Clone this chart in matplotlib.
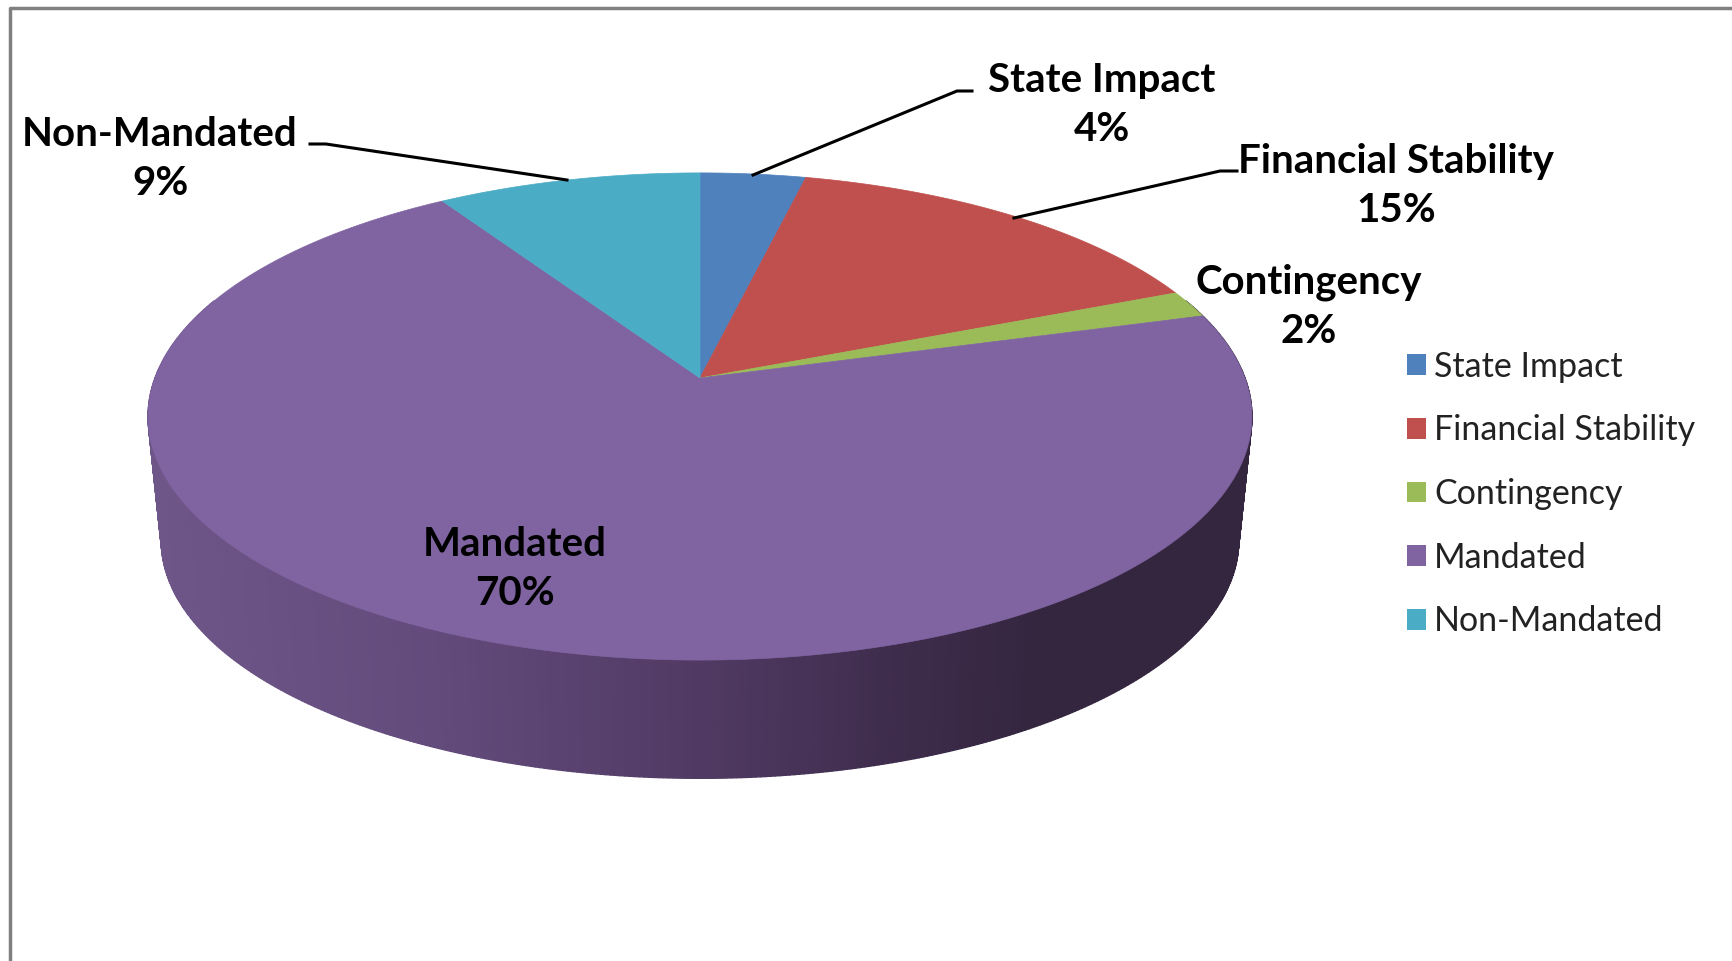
# 3D style pie chart, budget shares
import numpy as np
import matplotlib
matplotlib.use('Agg')
import matplotlib.pyplot as plt
from matplotlib.colors import LinearSegmentedColormap
from matplotlib.patches import Patch

categories = ['State Impact', 'Financial Stability', 'Contingency', 'Mandated', 'Non-Mandated']
shares = [3.6, 15.2, 1.8, 70.4, 9.0]
colors = ['#4f81bd', '#c0504d', '#9bbb59', '#8064a2', '#4bacc6']

plt.rcParams['font.family'] = ['Lato', 'DejaVu Sans']

# axes run in pixels of the picture
fig = plt.figure(figsize=(17.32, 9.61), dpi=100)
ax = fig.add_axes([0, 0, 1, 1])
ax.set_xlim(0, 1732)
ax.set_ylim(961, 0)
ax.axis('off')

cx, cy = 700, 378
rx, ry = 545, 237.5
persp = 0.158
depth = 125
shrink = 0.976


# turn an angle (clockwise from 12 o'clock) into a point of the tilted disc
def rim(t, scale=1.0, drop=0.0):
    X, Y = np.sin(t), np.cos(t)
    w = 1 + persp * Y
    return cx + scale * rx * X / w, cy + drop - scale * ry * Y / w


# side wall, shaded from left to right
shade = LinearSegmentedColormap.from_list('side', [
    (0.0, '#6f5689'), (0.25, '#634b7c'), (0.5, '#503a63'),
    (0.68, '#3e2c4c'), (0.8, '#352640'), (1.0, '#352640')])
tt = np.linspace(np.pi / 2 - 0.35, 3 * np.pi / 2 + 0.35, 500)
for t0, t1 in zip(tt[:-1], tt[1:]):
    x0, y0 = rim(t0)
    x1, y1 = rim(t1)
    x2, y2 = rim(t1, shrink, depth)
    x3, y3 = rim(t0, shrink, depth)
    c = shade((min(x0, x1) - 148) / 1103)
    ax.fill([x0, x1, x2, x3], [y0, y1, y2, y3], color=c, lw=1)

# top of the pie
edges = np.cumsum([0] + shares) / sum(shares) * 2 * np.pi
for a0, a1, col in zip(edges[:-1], edges[1:], colors):
    t = np.linspace(a0, a1, 200)
    x, y = rim(t)
    ax.fill(np.r_[cx, x], np.r_[cy, y], color=col, lw=0.5)

# data labels
label_pos = [(1102, 105), (1396, 186), (1309, 307), (515, 569), (160, 159)]
for name, v, (lx, ly) in zip(categories, shares, label_pos):
    ax.text(lx, ly, f'{name}\n{v:.0f}%', ha='center', va='center', fontsize=29,
            fontweight='bold', color='black', linespacing=1.4)

# leader lines
ax.plot([972, 957, 753], [91, 91, 175], color='black', lw=2.2)
ax.plot([1237, 1220, 1014], [171, 171, 218], color='black', lw=2.2)
ax.plot([310, 326, 567], [144, 144, 180], color='black', lw=2.2)

handles = [Patch(facecolor=c, edgecolor='none') for c in colors]
ax.legend(handles, categories, loc='upper left', bbox_to_anchor=(1376 / 1732, 1 - 320 / 961),
          frameon=False, fontsize=24.5, labelspacing=0.93, handlelength=0.56, handleheight=0.56,
          handletextpad=0.25, labelcolor='#222222')

# grey frame of the pasted picture
ax.plot([10, 10, 1732], [961, 8, 8], color='#808080', lw=2.5)

fig.savefig('out.png', dpi=100)
